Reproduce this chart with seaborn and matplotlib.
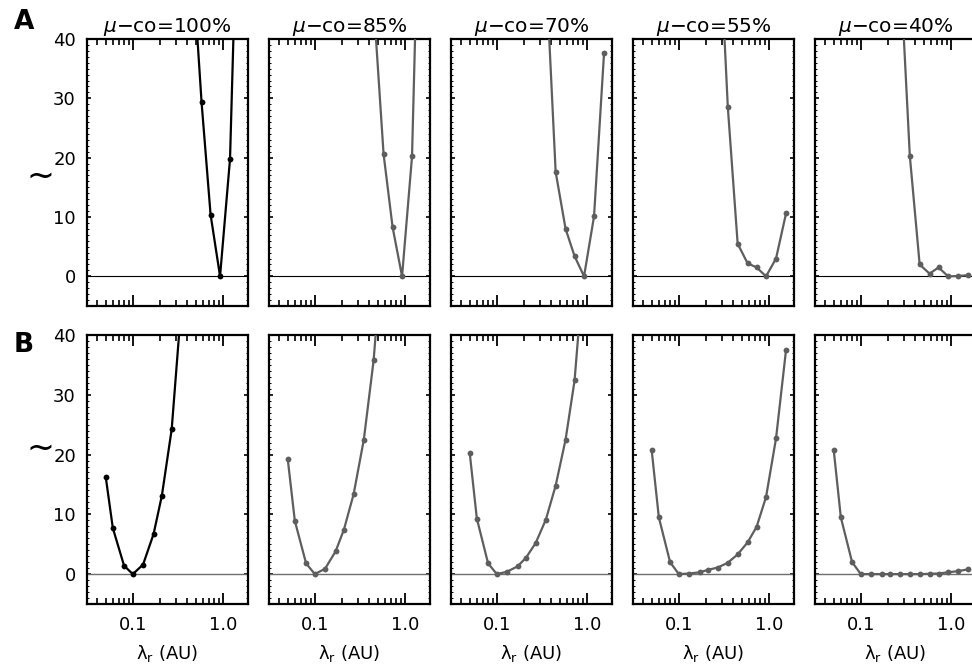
import numpy as np
import pandas as pd
import matplotlib
matplotlib.use("Agg")
import matplotlib.pyplot as plt
import matplotlib.ticker as mticker
import seaborn as sns

# ---------------- data ----------------
titles = ["100%", "85%", "70%", "55%", "40%"]
x_grid = [0.05, 0.06, 0.08, 0.10, 0.13, 0.17, 0.21, 0.27, 0.35, 0.45, 0.58, 0.73, 0.93, 1.2, 1.55]

# Row A (only points near the visible window)
a_x_100 = [0.45, 0.58, 0.73, 0.93, 1.2, 1.55]
a_y_100 = [55, 29.3, 10.4, 0.0, 19.8, 80]
a_x_85 = [0.45, 0.58, 0.73, 0.93, 1.2, 1.55]
a_y_85 = [46, 20.6, 8.3, 0.0, 20.2, 86]
a_x_70 = [0.35, 0.45, 0.58, 0.73, 0.93, 1.2, 1.55]
a_y_70 = [52, 17.6, 8.0, 3.4, 0.0, 10.1, 37.6]
a_x_55 = [0.27, 0.35, 0.45, 0.58, 0.73, 0.93, 1.2, 1.55]
a_y_55 = [64, 28.5, 5.5, 2.2, 1.5, 0.0, 3.0, 10.6]
a_x_40 = [0.27, 0.35, 0.45, 0.58, 0.73, 0.93, 1.2, 1.55]
a_y_40 = [54, 20.3, 2.0, 0.45, 1.5, 0.0, 0.05, 0.2]

# Row B
b_x_100 = x_grid[:9]
b_y_100 = [16.3, 7.7, 1.4, 0.0, 1.6, 6.7, 13.1, 24.2, 46]
b_x_85 = x_grid[:11]
b_y_85 = [19.3, 8.9, 1.8, 0.0, 0.9, 3.8, 7.4, 13.4, 22.5, 35.8, 57]
b_x_70 = x_grid[:13]
b_y_70 = [20.3, 9.3, 1.8, 0.0, 0.4, 1.3, 2.7, 5.2, 9.1, 14.8, 22.5, 32.4, 52]
b_x_55 = x_grid
b_y_55 = [20.7, 9.5, 2.0, 0.0, 0.1, 0.3, 0.7, 1.1, 1.9, 3.3, 5.3, 7.9, 12.9, 22.7, 37.5]
b_x_40 = x_grid
b_y_40 = [20.8, 9.5, 2.0, 0.0, 0.0, 0.0, 0.0, 0.0, 0.0, 0.0, 0.05, 0.1, 0.3, 0.5, 0.8]

row_a = [(a_x_100, a_y_100), (a_x_85, a_y_85), (a_x_70, a_y_70), (a_x_55, a_y_55), (a_x_40, a_y_40)]
row_b = [(b_x_100, b_y_100), (b_x_85, b_y_85), (b_x_70, b_y_70), (b_x_55, b_y_55), (b_x_40, b_y_40)]

# ---------------- style ----------------
sns.set_style("ticks")
plt.rcParams["font.family"] = ["DejaVu Sans"]
plt.rcParams["mathtext.fontset"] = "dejavusans"
for key in ["text.color", "axes.labelcolor", "xtick.color", "ytick.color", "axes.edgecolor"]:
    plt.rcParams[key] = "black"

W, H = 972, 666
fig = plt.figure(figsize=(W / 100, H / 100), dpi=100)

col_left = [87, 269, 451, 633, 815]
col_w = 161
rows = [(39, 306), (335, 604)]

line_colors = ["#000000", "#5e5e5e", "#5e5e5e", "#5e5e5e", "#5e5e5e"]

for r, (top, bot) in enumerate(rows):
    data_row = row_a if r == 0 else row_b
    for c in range(5):
        ax = fig.add_axes([col_left[c] / W, 1 - bot / H, col_w / W, (bot - top) / H])
        xs, ys = data_row[c]
        df = pd.DataFrame({"x": xs, "y": ys})
        zero_col = "#000000" if r == 0 else "#6e6e6e"
        zero_lw = 0.8 if r == 0 else 1.0
        ax.axhline(0, color=zero_col, lw=zero_lw, zorder=1)
        sns.lineplot(data=df, x="x", y="y", ax=ax, color=line_colors[c],
                     marker="o", markersize=4.2, markeredgewidth=0,
                     linewidth=1.6, sort=False, estimator=None, zorder=3)
        ax.set_xscale("log")
        ax.set_xlim(0.031, 1.9)
        ax.set_ylim(-5, 40)
        ax.xaxis.set_major_locator(mticker.FixedLocator([0.1, 1.0]))
        ax.xaxis.set_minor_locator(mticker.LogLocator(base=10, subs=np.arange(2, 10)))
        ax.xaxis.set_minor_formatter(mticker.NullFormatter())
        ax.yaxis.set_major_locator(mticker.FixedLocator([0, 10, 20, 30, 40]))
        ax.yaxis.set_minor_locator(mticker.MultipleLocator(1))
        if r == 1:
            ax.set_xticklabels(["0.1", "1.0"])
            ax.set_xlabel(r"$\mathregular{\lambda_r}$ (AU)", fontsize=13, labelpad=6)
        else:
            ax.set_xticklabels([])
            ax.set_xlabel("")
            ax.set_title(r"$\mu$" + "\u2212co=" + titles[c], fontsize=14.5, pad=5)
        if c == 0:
            ax.set_yticklabels(["0", "10", "20", "30", "40"])
        else:
            ax.set_yticklabels([])
        ax.set_ylabel("")
        ax.tick_params(axis="both", which="both", direction="in", top=True, right=True,
                       labelsize=13, color="black", labelcolor="black")
        ax.tick_params(axis="x", which="major", length=8, width=1.3, pad=9)
        ax.tick_params(axis="x", which="minor", length=4, width=1.2)
        ax.tick_params(axis="y", which="major", length=3, width=1.2, pad=8)
        ax.tick_params(axis="y", which="minor", length=1.2, width=0.7)
        for sp in ax.spines.values():
            sp.set_linewidth(1.6)
            sp.set_color("black")

fig.text(24 / W, 1 - 22 / H, "A", fontsize=19, fontweight="bold", ha="center", va="center")
fig.text(24 / W, 1 - 345 / H, "B", fontsize=19, fontweight="bold", ha="center", va="center")
fig.text(40 / W, 1 - 176 / H, "\u223c", fontsize=24, ha="center", va="center")
fig.text(40 / W, 1 - 448 / H, "\u223c", fontsize=24, ha="center", va="center")

fig.savefig("out.png", dpi=100)
